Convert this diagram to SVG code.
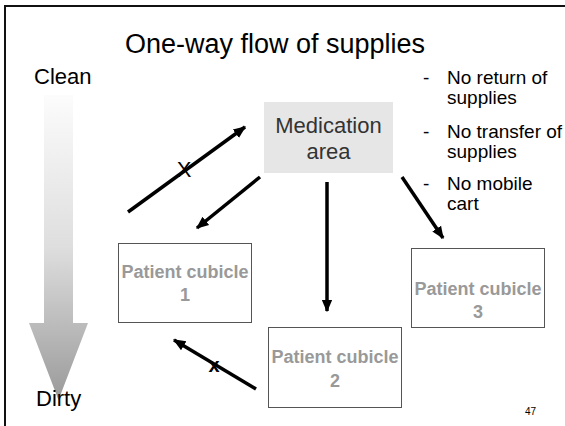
<svg xmlns="http://www.w3.org/2000/svg" width="565" height="426" viewBox="0 0 565 426">
<style>
  .t{font-family:"Liberation Sans",Arial,sans-serif;fill:#000}
  .box{fill:#fff;stroke:#555;stroke-width:1}
  .cub{font-family:"Liberation Sans",Arial,sans-serif;font-weight:bold;font-size:18px;fill:#999;text-anchor:middle}
  .conn line{stroke:#000;stroke-width:3.5}
</style>
<defs>
  <linearGradient id="g" gradientUnits="userSpaceOnUse" x1="0" y1="95" x2="0" y2="400">
    <stop offset="0" stop-color="#fcfcfc"/>
    <stop offset="0.5" stop-color="#dedede"/>
    <stop offset="1" stop-color="#9a9a9a"/>
  </linearGradient>
  <marker id="ah" viewBox="0 0 10 10" refX="9" refY="5" markerWidth="3.6" markerHeight="3.6" orient="auto" markerUnits="strokeWidth">
    <path d="M0,0.8 L10,5 L0,9.2 z" fill="#000"/>
  </marker>
</defs>
<rect width="565" height="426" fill="#fff"/>
<path d="M5,426 V6 H565" fill="none" stroke="#111" stroke-width="2"/>
<text class="t" x="275" y="53" font-size="27" text-anchor="middle">One-way flow of supplies</text>
<g id="clean-dirty">
  <path d="M44,95 H73 V323 H88 L58.5,400 L29,323 H44 Z" fill="url(#g)"/>
  <text class="t" x="34" y="84" font-size="22">Clean</text>
  <text class="t" x="36" y="406" font-size="22">Dirty</text>
</g>
<g id="notes" class="t" font-size="19">
  <text x="423" y="84">-</text><text x="447" y="84">No return of</text>
  <text x="447" y="104">supplies</text>
  <text x="423" y="138">-</text><text x="447" y="138">No transfer of</text>
  <text x="447" y="158">supplies</text>
  <text x="423" y="190">-</text><text x="447" y="190">No mobile</text>
  <text x="447" y="210">cart</text>
</g>
<g id="medication">
  <rect x="264" y="102" width="129" height="71" fill="#e6e6e6"/>
  <text x="328.5" y="133" font-family="Liberation Sans,Arial,sans-serif" font-size="22" fill="#333" text-anchor="middle">Medication</text>
  <text x="328.5" y="159" font-family="Liberation Sans,Arial,sans-serif" font-size="22" fill="#333" text-anchor="middle">area</text>
</g>
<g id="cubicle1">
  <rect class="box" x="118.5" y="243.5" width="133" height="79"/>
  <text class="cub" x="185" y="278">Patient cubicle</text>
  <text class="cub" x="185" y="301">1</text>
</g>
<g id="cubicle2">
  <rect class="box" x="268.5" y="327.5" width="133" height="80"/>
  <text class="cub" x="335" y="363">Patient cubicle</text>
  <text class="cub" x="335" y="387">2</text>
</g>
<g id="cubicle3">
  <rect class="box" x="411.5" y="248.5" width="133" height="79"/>
  <text class="cub" x="478" y="295">Patient cubicle</text>
  <text class="cub" x="478" y="318">3</text>
</g>
<g id="connectors" class="conn">
  <line x1="128" y1="212" x2="245" y2="127" marker-end="url(#ah)"/>
  <line x1="260" y1="177" x2="197" y2="228" marker-end="url(#ah)"/>
  <line x1="327" y1="182" x2="327" y2="311" marker-end="url(#ah)"/>
  <line x1="402" y1="177" x2="443" y2="238" marker-end="url(#ah)"/>
  <line x1="256" y1="389" x2="174" y2="340" marker-end="url(#ah)"/>
  <text class="t" x="184" y="177" font-size="22" text-anchor="middle">X</text>
  <text class="t" x="214" y="372" font-size="20" font-weight="bold" text-anchor="middle">x</text>
</g>
<text class="t" x="525" y="415" font-size="10" font-family="Liberation Sans Narrow,Liberation Sans,sans-serif">47</text>
</svg>
